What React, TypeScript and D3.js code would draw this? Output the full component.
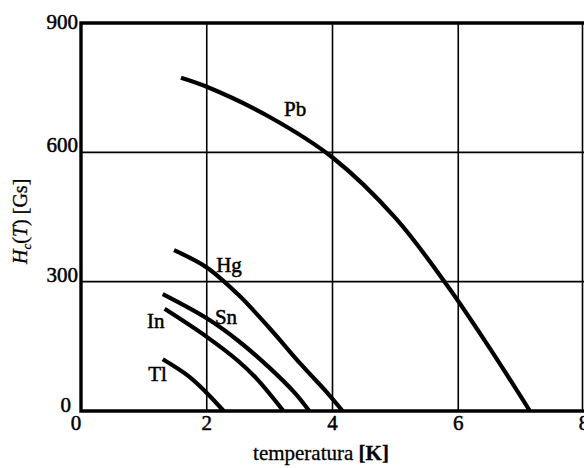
import React, { useEffect, useRef } from 'react';
import * as d3 from 'd3';

// critical field curves: [T (K), Hc (Gs)]
const metals = ['Pb', 'Hg', 'Sn', 'In', 'Tl'];
const pbPoints = [[1.59, 773], [2, 752], [3, 682], [4, 588], [5, 448], [5.83, 290], [6.5, 146], [7.14, 0]];
const hgPoints = [[1.48, 373], [2, 333], [2.5, 270], [3, 192], [3.5, 108], [3.9, 45], [4.16, 0]];
const snPoints = [[1.3, 271], [2, 215], [2.5, 163], [3, 100], [3.4, 42], [3.63, 0]];
const inPoints = [[1.33, 237], [2, 172], [2.5, 116], [2.8, 74], [3.22, 0]];
const tlPoints = [[1.3, 120], [1.7, 82], [2, 42], [2.27, 0]];
const series = [pbPoints, hgPoints, snPoints, inPoints, tlPoints];
// label anchors [T, Hc] (left edge, baseline)
const labelPos = [[3.23, 685], [2.15, 322], [2.13, 202], [1.05, 193], [1.07, 70]];

const xTicks = [0, 2, 4, 6, 8];
const yTicks = [0, 300, 600, 900];

const App = () => {
  const ref = useRef<SVGSVGElement>(null);

  useEffect(() => {
    const width = 584;
    const svg = d3.select(ref.current);
    svg.selectAll('*').remove();

    const x = d3.scaleLinear().domain([0, 8]).range([81, 584]);
    const y = d3.scaleLinear().domain([0, 900]).range([411, 23]);
    const font = '"Liberation Serif", "Times New Roman", serif';

    // grid
    const grid = svg.append('g').attr('stroke', '#000').attr('stroke-width', 1.6);
    grid.selectAll('.vg').data(xTicks.slice(1, 4)).join('line')
      .attr('x1', d => x(d)).attr('x2', d => x(d)).attr('y1', y(900)).attr('y2', y(0));
    grid.selectAll('.hg').data(yTicks.slice(1, 3)).join('line')
      .attr('x1', x(0)).attr('x2', width).attr('y1', d => y(d)).attr('y2', d => y(d));
    grid.append('line').attr('x1', x(8) - 1.5).attr('x2', x(8) - 1.5).attr('y1', y(900)).attr('y2', y(0));

    // frame
    svg.append('path').attr('d', `M${width},${y(900)}H${x(0)}V${y(0)}H${width}`)
      .attr('stroke', '#000').attr('stroke-width', 3.4).attr('fill', 'none');

    // curves
    const line = d3.line<number[]>().x(d => x(d[0])).y(d => y(d[1])).curve(d3.curveCatmullRom.alpha(0.5));
    svg.append('g').selectAll('path').data(series).join('path')
      .attr('d', d => line(d))
      .attr('fill', 'none').attr('stroke', '#000').attr('stroke-width', 4.2);

    // curve labels
    svg.append('g').selectAll('text').data(metals).join('text')
      .attr('x', (d, i) => x(labelPos[i][0])).attr('y', (d, i) => y(labelPos[i][1]))
      .attr('font-family', font).attr('font-size', 21)
      .attr('stroke', '#000').attr('stroke-width', 0.5)
      .text(d => d);

    // tick labels
    svg.append('g').selectAll('text').data(yTicks).join('text')
      .attr('x', d => (d === 0 ? 71 : 78)).attr('y', d => (d === 0 ? y(d) + 1 : d === 900 ? y(d) + 6 : y(d)))
      .attr('text-anchor', 'end').attr('font-family', font).attr('font-size', 21)
      .attr('stroke', '#000').attr('stroke-width', 0.5)
      .text(d => d);
    svg.append('g').selectAll('text').data(xTicks).join('text')
      .attr('x', d => (d === 0 ? x(d) - 5 : x(d))).attr('y', 430)
      .attr('text-anchor', 'middle').attr('font-family', font).attr('font-size', 21)
      .attr('stroke', '#000').attr('stroke-width', 0.5)
      .text(d => d);

    // axis titles
    const xt = svg.append('text').attr('x', 321).attr('y', 460)
      .attr('text-anchor', 'middle').attr('font-family', font).attr('font-size', 21)
      .attr('stroke', '#000').attr('stroke-width', 0.3);
    xt.append('tspan').text('temperatura ');
    xt.append('tspan').attr('font-weight', 'bold').text('[K]');

    const yt = svg.append('text').attr('transform', `translate(27,${y(440)}) rotate(-90)`)
      .attr('text-anchor', 'middle').attr('font-family', font).attr('font-size', 20)
      .attr('stroke', '#000').attr('stroke-width', 0.3);
    yt.append('tspan').attr('font-style', 'italic').text('H');
    yt.append('tspan').attr('font-style', 'italic').attr('font-size', 13).attr('dy', 4).text('c');
    yt.append('tspan').attr('dy', -4).text('(');
    yt.append('tspan').attr('font-style', 'italic').text('T');
    yt.append('tspan').text(') [Gs]');
  }, []);

  return (
    <svg ref={ref} width={584} height={468}
      style={{ position: 'absolute', left: 0, top: 0, background: '#fff' }} />
  );
};

export default App;
